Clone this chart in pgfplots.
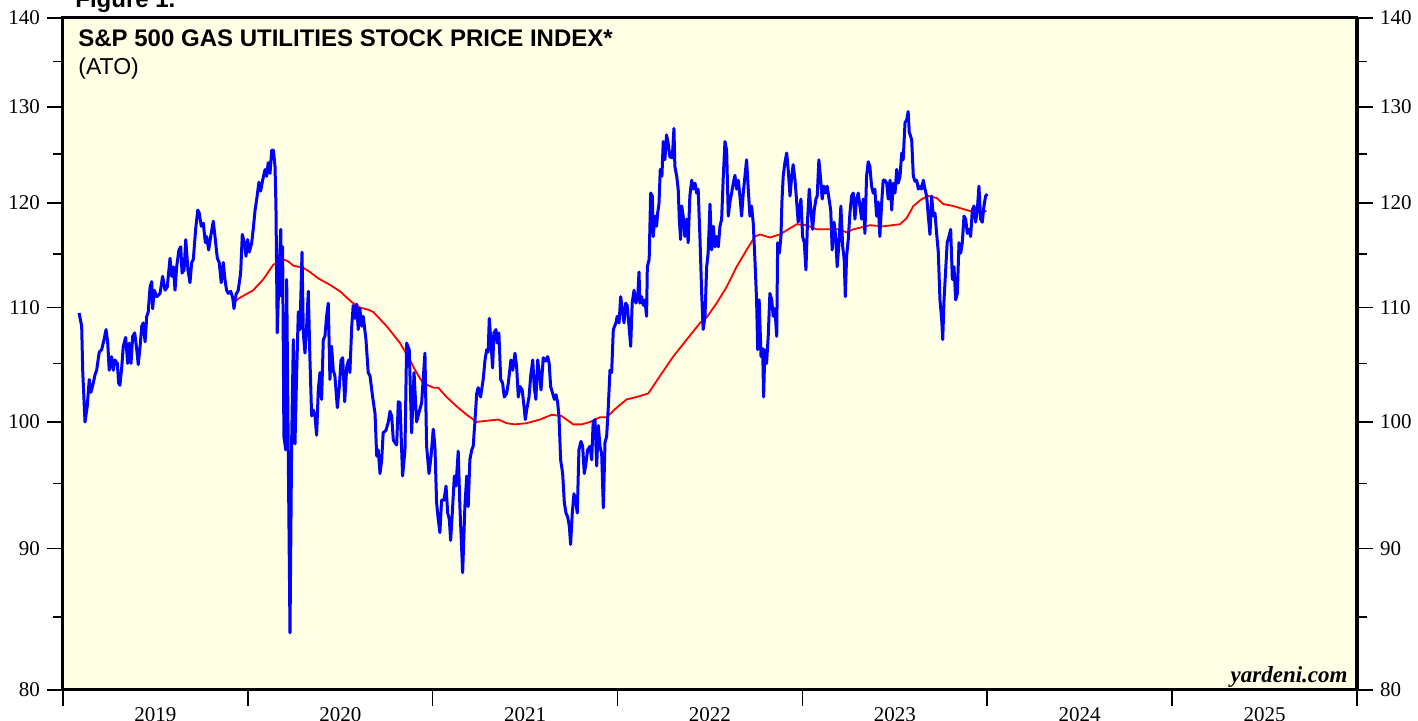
\documentclass[border=0pt]{standalone}
\usepackage{fontspec}
\setmainfont{Liberation Serif}
\setsansfont{Liberation Sans}
\usepackage{pgfplots}
\usepackage{pgfplotstable}
\pgfplotsset{compat=1.18}
\definecolor{panel}{HTML}{FFFFE5}
\definecolor{priceblue}{HTML}{0000FF}
\definecolor{mared}{HTML}{FF0000}

% daily index level
\pgfplotstableread{
year price
2019.087 109.5
2019.101 108.3
2019.107 104.2
2019.119 100.0
2019.131 101.3
2019.142 103.6
2019.151 102.5
2019.164 103.3
2019.173 104.0
2019.182 104.4
2019.196 106.0
2019.209 106.2
2019.222 107.1
2019.233 108.0
2019.242 106.8
2019.250 104.4
2019.263 105.6
2019.272 104.4
2019.281 105.3
2019.294 105.0
2019.301 103.3
2019.308 103.1
2019.318 104.7
2019.326 106.5
2019.339 107.3
2019.350 105.0
2019.359 106.8
2019.368 105.0
2019.377 107.4
2019.388 107.7
2019.399 106.2
2019.407 104.9
2019.417 106.5
2019.426 108.3
2019.434 108.6
2019.444 106.9
2019.453 109.2
2019.461 109.6
2019.471 111.9
2019.480 112.4
2019.485 109.9
2019.494 111.6
2019.507 111.0
2019.525 111.3
2019.539 112.9
2019.552 111.6
2019.564 111.9
2019.579 114.6
2019.588 112.9
2019.597 113.8
2019.606 111.6
2019.615 113.8
2019.627 115.4
2019.637 115.7
2019.644 113.2
2019.655 113.5
2019.664 116.4
2019.676 113.5
2019.687 112.3
2019.696 114.2
2019.705 114.5
2019.718 117.5
2019.729 119.3
2019.737 119.0
2019.748 117.7
2019.759 118.0
2019.770 116.1
2019.777 116.7
2019.788 115.4
2019.799 116.7
2019.813 118.2
2019.824 116.4
2019.835 114.6
2019.845 114.2
2019.856 112.3
2019.867 114.2
2019.876 112.6
2019.885 111.6
2019.894 111.3
2019.907 111.5
2019.918 110.9
2019.925 109.9
2019.936 111.2
2019.948 111.6
2019.961 113.2
2019.970 116.9
2019.981 116.1
2019.990 114.8
2019.999 116.4
2020.008 115.2
2020.021 116.1
2020.029 117.4
2020.039 119.3
2020.048 120.4
2020.060 122.1
2020.069 121.2
2020.080 122.3
2020.093 123.4
2020.102 122.7
2020.110 124.1
2020.120 123.0
2020.129 125.4
2020.138 125.4
2020.147 123.7
2020.152 119.7
2020.159 107.7
2020.170 113.8
2020.178 117.4
2020.183 111.0
2020.188 115.7
2020.195 98.8
2020.205 97.7
2020.210 112.6
2020.219 96.9
2020.228 83.9
2020.237 98.5
2020.246 107.1
2020.255 98.2
2020.264 104.2
2020.273 109.6
2020.282 108.0
2020.293 115.2
2020.300 107.7
2020.309 105.9
2020.318 108.3
2020.327 111.5
2020.336 105.3
2020.345 100.5
2020.354 101.0
2020.363 100.5
2020.372 98.9
2020.381 102.7
2020.390 104.2
2020.399 101.9
2020.408 107.1
2020.417 107.4
2020.426 109.2
2020.435 110.4
2020.444 103.6
2020.453 106.5
2020.462 104.4
2020.471 103.9
2020.484 101.2
2020.495 103.0
2020.504 105.3
2020.513 105.5
2020.524 101.7
2020.535 104.7
2020.545 105.3
2020.552 104.2
2020.562 108.3
2020.570 110.2
2020.579 109.0
2020.589 110.3
2020.597 108.0
2020.606 109.9
2020.616 108.3
2020.624 109.2
2020.639 107.1
2020.651 104.2
2020.661 103.9
2020.675 102.1
2020.688 100.7
2020.697 97.2
2020.705 97.7
2020.715 95.8
2020.724 96.9
2020.732 99.1
2020.747 99.3
2020.760 100.0
2020.769 100.9
2020.778 100.5
2020.787 98.5
2020.805 98.1
2020.814 101.7
2020.823 101.6
2020.837 95.6
2020.850 97.7
2020.859 106.8
2020.873 106.2
2020.886 99.1
2020.899 104.2
2020.913 100.0
2020.926 100.8
2020.940 101.6
2020.958 105.9
2020.967 98.0
2020.980 95.8
2020.991 97.2
2021.003 99.4
2021.012 98.0
2021.021 93.5
2021.030 92.2
2021.039 91.2
2021.048 93.7
2021.061 93.7
2021.072 94.8
2021.081 92.7
2021.090 92.2
2021.097 90.6
2021.106 92.7
2021.117 95.6
2021.126 94.8
2021.138 97.6
2021.147 93.2
2021.162 88.2
2021.174 93.2
2021.184 95.6
2021.192 93.2
2021.201 96.9
2021.211 97.7
2021.219 98.0
2021.229 100.2
2021.238 102.4
2021.246 102.9
2021.259 102.1
2021.273 103.6
2021.283 105.3
2021.292 106.2
2021.300 106.0
2021.306 109.0
2021.313 107.4
2021.324 104.6
2021.331 107.7
2021.342 108.0
2021.349 106.8
2021.358 107.7
2021.368 103.6
2021.378 103.3
2021.387 102.1
2021.400 102.4
2021.409 103.3
2021.423 105.3
2021.433 104.4
2021.445 105.9
2021.454 104.7
2021.463 102.1
2021.472 103.0
2021.484 102.7
2021.494 101.3
2021.501 100.2
2021.508 101.0
2021.521 102.1
2021.530 103.9
2021.541 105.3
2021.549 103.0
2021.558 101.9
2021.568 105.3
2021.576 104.2
2021.586 102.7
2021.598 105.5
2021.611 105.2
2021.622 105.6
2021.630 105.0
2021.638 103.0
2021.649 102.4
2021.658 101.9
2021.667 102.3
2021.676 101.6
2021.683 100.5
2021.692 96.9
2021.703 95.8
2021.712 93.5
2021.721 92.7
2021.730 92.4
2021.739 91.7
2021.746 90.3
2021.755 92.7
2021.764 94.2
2021.773 93.7
2021.782 92.7
2021.791 97.7
2021.802 98.4
2021.811 98.0
2021.820 95.8
2021.829 96.6
2021.838 97.7
2021.851 98.0
2021.860 96.9
2021.868 100.0
2021.878 100.2
2021.887 96.4
2021.896 99.7
2021.905 98.0
2021.914 97.4
2021.923 93.1
2021.932 98.3
2021.941 98.8
2021.950 101.3
2021.959 104.4
2021.968 104.2
2021.977 108.0
2021.991 108.6
2021.998 109.2
2022.008 108.6
2022.017 111.0
2022.025 109.9
2022.035 108.6
2022.044 110.4
2022.052 110.2
2022.062 108.3
2022.071 106.5
2022.079 110.4
2022.089 111.6
2022.099 110.4
2022.109 111.0
2022.116 113.3
2022.121 110.4
2022.130 111.0
2022.139 110.2
2022.148 110.7
2022.157 109.2
2022.161 113.8
2022.171 114.5
2022.179 121.0
2022.188 120.7
2022.193 116.7
2022.202 118.7
2022.211 117.7
2022.217 119.0
2022.224 119.9
2022.231 123.4
2022.240 122.7
2022.247 126.3
2022.256 124.4
2022.265 127.0
2022.274 126.1
2022.283 124.7
2022.296 124.6
2022.305 127.7
2022.310 123.7
2022.320 122.7
2022.328 121.4
2022.334 118.4
2022.341 116.4
2022.347 119.7
2022.355 118.7
2022.364 116.7
2022.374 118.4
2022.382 116.1
2022.391 120.7
2022.401 122.3
2022.409 121.4
2022.419 122.0
2022.428 121.0
2022.436 121.4
2022.446 116.4
2022.455 111.3
2022.463 108.0
2022.473 109.2
2022.482 113.8
2022.490 115.1
2022.500 119.9
2022.509 115.4
2022.518 117.7
2022.527 115.7
2022.536 116.7
2022.545 115.7
2022.554 117.7
2022.563 118.4
2022.572 122.7
2022.581 126.3
2022.590 125.4
2022.599 118.7
2022.608 120.1
2022.617 121.0
2022.626 122.0
2022.635 122.8
2022.644 121.4
2022.653 122.3
2022.662 120.7
2022.671 118.7
2022.680 121.0
2022.689 122.7
2022.698 124.4
2022.707 121.4
2022.716 118.7
2022.725 119.7
2022.734 118.0
2022.743 114.5
2022.752 110.7
2022.758 106.2
2022.766 110.7
2022.776 105.6
2022.785 106.3
2022.790 102.1
2022.797 106.2
2022.806 105.0
2022.815 107.4
2022.824 111.3
2022.834 110.7
2022.842 109.2
2022.851 109.9
2022.861 107.4
2022.866 116.1
2022.875 115.1
2022.884 116.7
2022.889 120.1
2022.896 122.7
2022.905 124.1
2022.915 125.1
2022.923 123.4
2022.933 120.7
2022.942 122.7
2022.950 123.9
2022.960 122.3
2022.969 120.1
2022.977 118.1
2022.987 119.7
2022.992 120.4
2023.001 116.7
2023.010 116.1
2023.019 113.5
2023.028 118.4
2023.037 121.4
2023.046 119.3
2023.055 117.4
2023.064 119.3
2023.073 120.4
2023.080 120.7
2023.089 124.4
2023.099 122.3
2023.107 120.4
2023.116 121.7
2023.126 121.0
2023.134 121.7
2023.144 120.4
2023.153 119.3
2023.161 115.4
2023.171 118.1
2023.180 116.7
2023.188 113.8
2023.198 116.1
2023.208 119.7
2023.218 115.7
2023.226 114.5
2023.232 111.0
2023.239 114.8
2023.248 116.4
2023.257 119.0
2023.266 120.7
2023.275 121.0
2023.284 118.4
2023.293 120.4
2023.302 121.0
2023.311 119.7
2023.320 118.4
2023.329 120.4
2023.338 117.0
2023.347 122.7
2023.356 124.2
2023.365 123.7
2023.374 121.7
2023.383 121.0
2023.392 121.4
2023.401 118.7
2023.410 120.1
2023.419 116.7
2023.429 120.1
2023.437 122.3
2023.446 122.3
2023.456 122.0
2023.464 120.4
2023.474 122.3
2023.483 119.3
2023.491 122.0
2023.501 121.0
2023.510 123.4
2023.518 122.0
2023.528 122.7
2023.537 125.1
2023.545 124.4
2023.555 128.3
2023.564 128.6
2023.572 129.5
2023.578 127.3
2023.591 126.5
2023.600 122.7
2023.609 122.2
2023.618 122.3
2023.627 121.4
2023.636 121.7
2023.645 121.4
2023.654 122.3
2023.663 121.4
2023.672 120.7
2023.681 118.7
2023.690 116.9
2023.699 120.7
2023.708 118.7
2023.717 119.0
2023.726 117.0
2023.735 115.2
2023.744 110.7
2023.753 109.0
2023.759 107.1
2023.766 110.7
2023.775 113.5
2023.783 116.1
2023.793 116.7
2023.802 117.4
2023.811 112.6
2023.820 113.8
2023.829 110.7
2023.838 111.3
2023.847 116.1
2023.856 115.1
2023.865 116.1
2023.874 118.7
2023.883 118.4
2023.892 117.0
2023.901 117.4
2023.910 116.7
2023.919 119.3
2023.928 119.7
2023.937 118.1
2023.946 119.3
2023.955 121.7
2023.964 118.4
2023.973 118.1
2023.982 119.7
2023.991 120.7
2024.000 120.9
}\atodaily

% 200-day moving average
\pgfplotstableread{
year ma
2019.925 110.5
2019.957 110.9
2020.029 111.6
2020.083 112.6
2020.138 114.0
2020.192 114.5
2020.219 114.3
2020.246 113.9
2020.300 113.7
2020.336 113.3
2020.381 112.7
2020.444 112.1
2020.498 111.5
2020.562 110.5
2020.606 110.0
2020.651 109.8
2020.678 109.6
2020.751 108.3
2020.823 106.8
2020.877 105.3
2020.895 104.7
2020.931 103.7
2020.949 103.3
2021.003 102.9
2021.030 102.9
2021.075 102.1
2021.130 101.3
2021.184 100.6
2021.238 100.0
2021.292 100.1
2021.355 100.2
2021.400 99.9
2021.445 99.8
2021.508 99.9
2021.580 100.2
2021.643 100.6
2021.697 100.5
2021.760 99.8
2021.806 99.8
2021.851 100.0
2021.905 100.4
2021.941 100.4
2021.995 101.2
2022.049 101.9
2022.103 102.1
2022.166 102.4
2022.229 103.9
2022.301 105.6
2022.374 107.1
2022.446 108.6
2022.482 109.1
2022.536 110.4
2022.590 111.9
2022.644 113.8
2022.698 115.4
2022.743 116.7
2022.770 116.9
2022.824 116.6
2022.878 116.9
2022.933 117.5
2022.969 117.9
2023.023 117.8
2023.077 117.4
2023.131 117.4
2023.203 117.4
2023.239 117.1
2023.275 117.4
2023.365 117.8
2023.437 117.7
2023.528 117.9
2023.564 118.5
2023.600 119.7
2023.645 120.4
2023.681 120.7
2023.726 120.5
2023.762 119.9
2023.816 119.7
2023.852 119.5
2023.906 119.2
2023.942 119.1
2023.996 119.2
}\atoma

\begin{document}
\begin{tikzpicture}[x=1pt,y=1pt]
\useasboundingbox (0,0) rectangle (709,360.5);
\node[anchor=base west, inner sep=0, font=\sffamily\bfseries\fontsize{12}{14}\selectfont] at (37.5,356.5) {Figure 1.};
\begin{axis}[
  at={(31.5pt,15.5pt)}, anchor=south west,
  scale only axis, width=647pt, height=336pt,
  xmin=2019, xmax=2026,
  ymode=log, ymin=80, ymax=140,
  ytick={80,90,100,110,120,130,140},
  yticklabels={80,90,100,110,120,130,140},
  minor ytick={85,95,105,115,125,135},
  tick align=outside,
  major tick length=8pt, minor tick length=5pt,
  tick style={black, line width=0.8pt},
  ticklabel style={font=\fontsize{10.5}{12}\selectfont},
  axis line style={line width=1.5pt},
  axis background/.style={fill=panel},
  ytick pos=left, yticklabel pos=left,
  xtick={2019,2020,...,2026}, xticklabels={},
  extra x ticks={2019.5,2020.5,2021.5,2022.5,2023.5,2024.5,2025.5},
  extra x tick labels={2019,2020,2021,2022,2023,2024,2025},
  extra x tick style={tick style={draw=none}},
  xticklabel style={yshift=2.5pt},
  xtick pos=bottom,
]
\addplot[mared, line width=0.9pt, line join=round] table[x=year, y=ma] {\atoma};
\addplot[priceblue, line width=1.5pt, line join=round] table[x=year, y=price] {\atodaily};
\node[anchor=base west, inner sep=0, font=\sffamily\bfseries\fontsize{12}{14}\selectfont]
  at (rel axis cs:0.0116,0.957) {S\&P 500 GAS UTILITIES STOCK PRICE INDEX*};
\node[anchor=base west, inner sep=0, font=\sffamily\fontsize{11.5}{13}\selectfont]
  at (rel axis cs:0.0116,0.916) {(ATO)};
\node[anchor=base east, inner sep=0, font=\rmfamily\bfseries\itshape\fontsize{11.5}{13}\selectfont]
  at (rel axis cs:0.993,0.0104) {yardeni.com};
\end{axis}
\begin{axis}[
  at={(31.5pt,15.5pt)}, anchor=south west,
  scale only axis, width=647pt, height=336pt,
  xmin=2019, xmax=2026,
  ymode=log, ymin=80, ymax=140,
  ytick={80,90,100,110,120,130,140},
  yticklabels={80,90,100,110,120,130,140},
  minor ytick={85,95,105,115,125,135},
  tick align=outside,
  major tick length=8pt, minor tick length=5pt,
  tick style={black, line width=0.8pt},
  ticklabel style={font=\fontsize{10.5}{12}\selectfont},
  axis line style={line width=1.5pt},
  hide x axis,
  axis y line*=right,
  ytick pos=right, yticklabel pos=right,
]
\addplot[draw=none] table[x=year, y=ma] {\atoma};
\end{axis}
\end{tikzpicture}
\end{document}
